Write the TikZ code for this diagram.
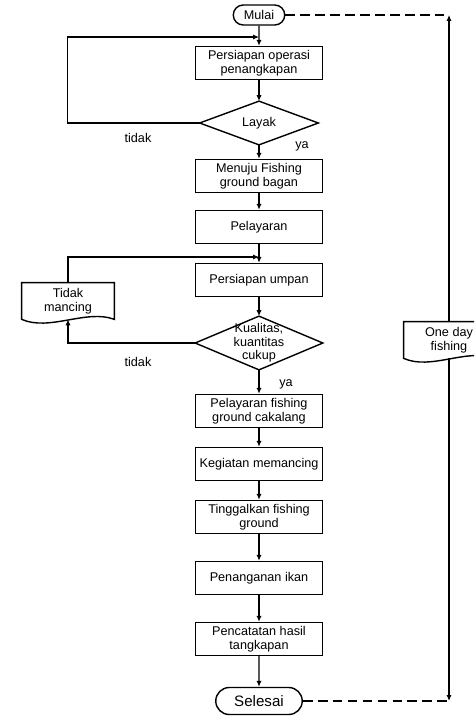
\documentclass[tikz,border=0pt]{standalone}
\usepackage{fontspec}
\setmainfont{Liberation Sans}
\usetikzlibrary{arrows.meta, positioning, shapes.misc, calc}

\tikzset{
  prosesbox/.style={draw=black, line width=0.8pt, minimum width=2.54cm, minimum height=0.66cm, inner sep=1pt, align=center},
  mulaibox/.style={draw=black, line width=0.8pt, rounded rectangle, minimum width=1.1cm, minimum height=0.4cm, inner sep=1pt},
  pilihan/.style={draw=none, inner sep=0pt, align=center},
  dokumen/.style={draw=none, inner sep=1pt, align=center},
  garis/.style={draw=black, line width=0.7pt},
  panah/.style={garis, -{Latex[length=3.4pt,width=3pt]}},
  putus/.style={garis, dash pattern=on 5.5pt off 3pt},
  teks/.style={inner sep=1pt}
}
\newcommand{\belahketupat}[1]{\draw[line width=0.8pt] (#1.west) -- (#1.north) -- (#1.east) -- (#1.south) -- cycle;}
\newcommand{\kertas}[1]{\draw[line width=0.8pt] (#1.north west) -- (#1.north east) -- (#1.south east)
  .. controls ($(#1.south east)!0.3!(#1.south west)+(0,6pt)$) and ($(#1.south east)!0.7!(#1.south west)+(0,-7pt)$) .. (#1.south west) -- cycle;}

\begin{document}
\begin{tikzpicture}[x=0.02cm, y=-0.02cm, font=\fontsize{7.2}{8.2}\selectfont]
    \useasboundingbox (0,0) rectangle (474,727);
    \clip (0,0) rectangle (474,727);

    \node[mulaibox] (mulai) at (259,15) {Mulai};
    \node[prosesbox] (p1) at (259,63) {Persiapan operasi\\penangkapan};
    \node[pilihan, minimum width=2.36cm, minimum height=0.86cm] (layak) at (259,123) {Layak};
    \belahketupat{layak}
    \node[prosesbox] (p2) at (259,176) {Menuju Fishing\\ground bagan};
    \node[prosesbox] (p3) at (259,227) {Pelayaran};
    \node[prosesbox] (p4) at (259,280) {Persiapan umpan};
    \node[pilihan, minimum width=2.54cm, minimum height=1.06cm, font=\fontsize{7.2}{7.8}\selectfont] (kual) at (259,343) {Kualitas,\\kuantitas\\cukup};
    \belahketupat{kual}
    \node[prosesbox] (p5) at (259,411) {Pelayaran fishing\\ground cakalang};
    \node[prosesbox] (p6) at (259,464) {Kegiatan memancing};
    \node[prosesbox] (p7) at (259,517) {Tinggalkan fishing\\ground};
    \node[prosesbox] (p8) at (259,578) {Penanganan ikan};
    \node[prosesbox] (p9) at (259,639) {Pencatatan hasil\\tangkapan};
    \node[mulaibox, minimum width=1.8cm, minimum height=0.54cm, font=\fontsize{8.6}{10}\selectfont] (selesai) at (259,701) {Selesai};

    \node[dokumen, minimum width=1.84cm, minimum height=0.72cm] (tm) at (68,301) {Tidak\\mancing};
    \kertas{tm}
    \node[dokumen, minimum width=1.8cm, minimum height=0.72cm] (odf) at (449,340) {One day\\fishing};
    \kertas{odf}

    \node[teks] (tidak1) at (138,138) {tidak};
    \node[teks] (ya1) at (302,146) {ya};
    \node[teks] (tidak2) at (138,362) {tidak};
    \node[teks] (ya2) at (286,384) {ya};

    \coordinate (j1) at (259,37);
    \coordinate (j2) at (259,257);
    \coordinate (r1) at (449,15);
    \coordinate (r2) at (449,701);

    \draw[panah] (mulai) -- (p1);
    \draw[panah] (p1) -- (layak);
    \draw[panah] (layak) -- (p2);
    \draw[panah] (p2) -- (p3);
    \draw[panah] (p3) -- (p4);
    \draw[panah] (p4) -- (kual);
    \draw[panah] (kual) -- (p5);
    \draw[panah] (p5) -- (p6);
    \draw[panah] (p6) -- (p7);
    \draw[panah] (p7) -- (p8);
    \draw[panah] (p8) -- (p9);
    \draw[panah] (p9) -- (selesai);

    \draw[panah] (layak.west) -- ++(-132,0) |- (j1);
    \draw[panah] (kual.west) -| (tm.south);
    \draw[panah] (tm.north) |- (j2);

    \draw[putus] (mulai.east) -- (r1);
    \draw[putus] (selesai.east) -- (r2);
    \draw[panah] (odf.north) -- (r1);
    \draw[panah] (odf.south) -- (r2);
\end{tikzpicture}
\end{document}
